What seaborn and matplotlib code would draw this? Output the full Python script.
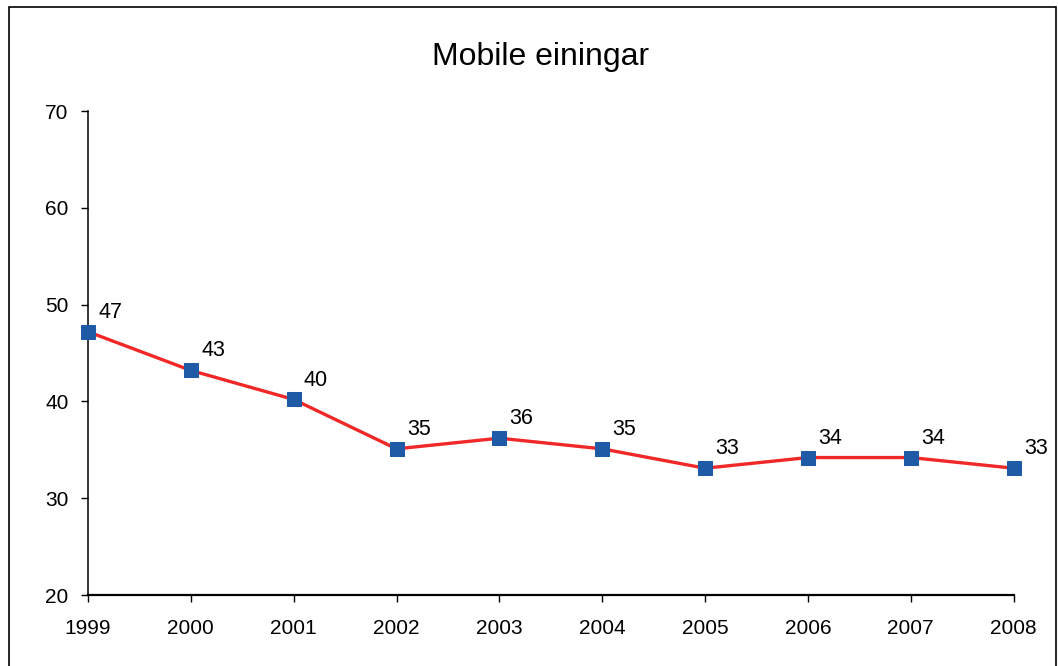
import matplotlib
matplotlib.use("Agg")
import matplotlib.pyplot as plt
import seaborn as sns
import pandas as pd
from matplotlib.patches import Rectangle

# data
years = ["1999", "2000", "2001", "2002", "2003", "2004", "2005", "2006", "2007", "2008"]
values = [47.2, 43.2, 40.2, 35.1, 36.2, 35.1, 33.1, 34.2, 34.2, 33.1]
labels = ["47", "43", "40", "35", "36", "35", "33", "34", "34", "33"]

df = pd.DataFrame({"year": years, "value": values, "pos": range(len(years))})

sns.set_style("ticks")
plt.rcParams["font.family"] = ["Liberation Sans", "DejaVu Sans"]
plt.rcParams["text.color"] = "black"
plt.rcParams["xtick.color"] = "black"
plt.rcParams["ytick.color"] = "black"

fig = plt.figure(figsize=(10.58, 6.66), dpi=100)
ax = fig.add_axes([0.0832, 0.1066, 0.958 - 0.0832, 0.8333 - 0.1066])

sns.lineplot(data=df, x="pos", y="value", ax=ax, color="#F02828", linewidth=2.4,
             marker="s", markersize=9.5, markerfacecolor="#1F5AA6",
             markeredgecolor="#1F5AA6", clip_on=False, zorder=3)

for x, y, t in zip(df["pos"], df["value"], labels):
    ax.annotate(t, (x, y), xytext=(16, 14), textcoords="offset points",
                ha="center", va="center", fontsize=15.5, color="black")

ax.set_xlim(0, len(years) - 1)
ax.set_ylim(20, 70)
ax.set_yticks(range(20, 71, 10))
ax.set_xticks(range(len(years)))
ax.set_xticklabels(years)
ax.set_xlabel("")
ax.set_ylabel("")
ax.tick_params(axis="both", labelsize=15, length=5, width=1, color="black",
               labelcolor="black")
ax.tick_params(axis="x", pad=12)
ax.tick_params(axis="y", pad=9)
for side in ["top", "right"]:
    ax.spines[side].set_visible(False)
for side in ["left", "bottom"]:
    ax.spines[side].set_color("black")
ax.spines["bottom"].set_linewidth(1.6)
ax.spines["left"].set_linewidth(1.1)

fig.text(0.511, 0.915, "Mobile einingar", ha="center", va="center", fontsize=23,
         color="black")

# outer chart frame
fig.patches.append(Rectangle((9 / 1058, -0.01), (1056 - 9) / 1058, (659 / 666) + 0.01,
                             transform=fig.transFigure, fill=False,
                             edgecolor="black", linewidth=1.2))

fig.savefig("out.png", dpi=100)
